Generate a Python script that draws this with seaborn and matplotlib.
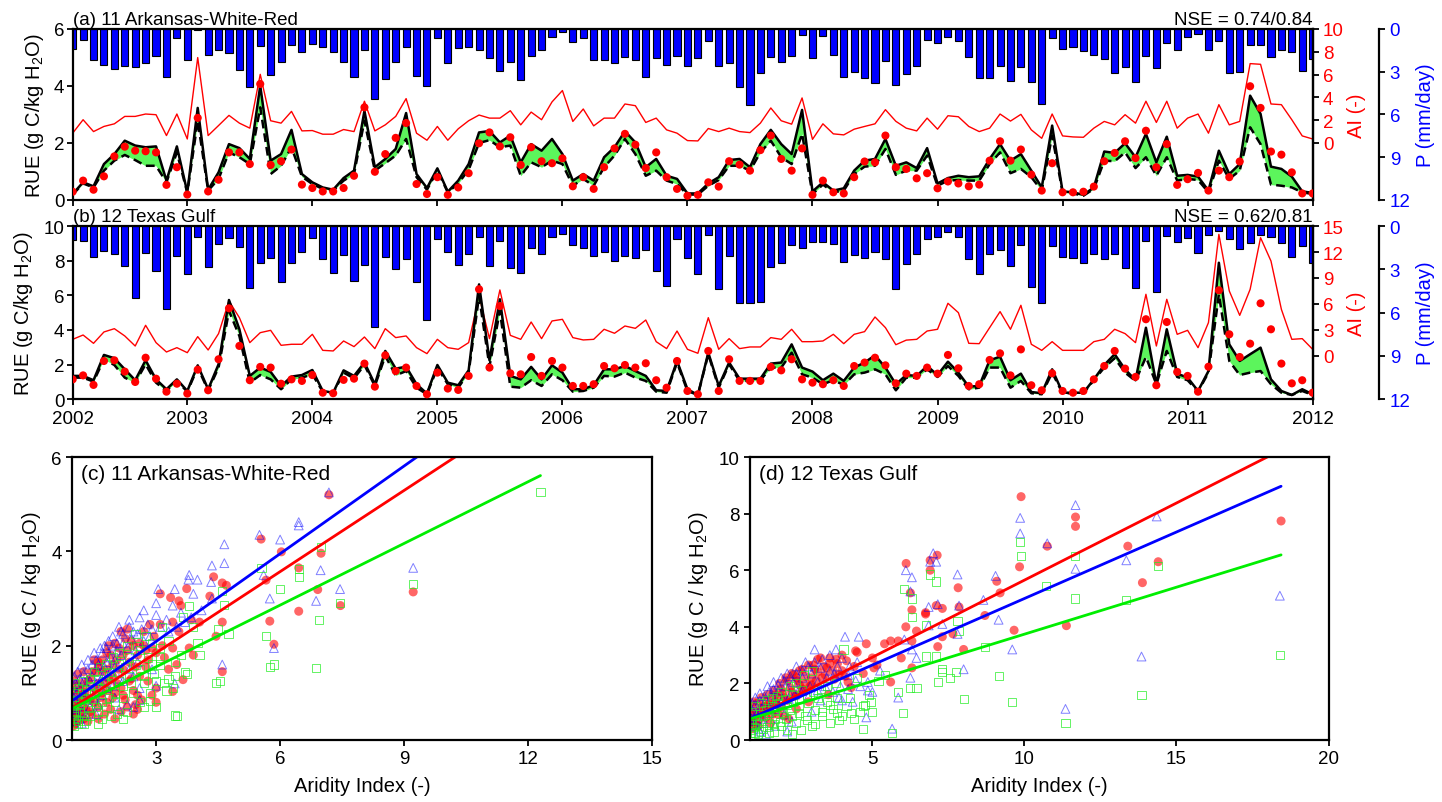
import numpy as np
import matplotlib
matplotlib.use("Agg")
import matplotlib.pyplot as plt
import seaborn as sns

# ---------------- monthly series, Jan 2002 .. Dec 2011 ----------------
a_precip = [1.4, 0.77, 2.2, 2.5, 2.8, 2.6, 2.7, 2.4, 1.9, 3.4,
            0.6, 2.2, 0.1, 1.8, 1.5, 1.7, 2.9, 4.1, 1.2, 3.2,
            2.3, 1.1, 1.6, 1.05, 1.3, 1.6, 2.3, 3.4, 1.5, 4.9,
            3.5, 2.3, 1.25, 3.3, 4.0, 0.6, 2.4, 1.35, 1.3, 1.5,
            2.06, 2.92, 2.34, 3.58, 1.87, 1.47, 0.58, 0.23, 0.94, 0.63,
            2.18, 2.18, 2.41, 1.99, 2.18, 3.39, 2.04, 2.5, 1.89, 2.6,
            2.04, 0.82, 2.57, 2.41, 4.09, 5.31, 3.11, 1.99, 2.29, 1.92,
            0.4, 2.04, 0.51, 1.82, 3.39, 3.04, 3.44, 3.81, 2.27, 3.93,
            3.16, 2.62, 0.77, 0.98, 0.54, 0.87, 1.94, 3.46, 3.44, 2.62,
            3.67, 2.69, 3.74, 5.26, 0.63, 1.4, 1.24, 1.52, 1.8, 2.08,
            3.11, 2.69, 3.74, 1.87, 2.76, 0.98, 1.47, 0.58, 0.35, 1.45,
            0.87, 3.09, 2.99, 1.15, 1.12, 1.99, 1.47, 1.64, 2.92, 2.11]
a_ai = [0.86, 2.04, 1.0, 1.45, 1.68, 2.33, 2.33, 2.54, 2.48, 0.65,
        2.54, 0.35, 7.49, 0.65, 1.53, 2.42, 1.74, 1.3, 6.02, 1.95,
        1.74, 2.77, 1.06, 1.09, 0.77, 0.77, 1.18, 1.0, 3.66, 1.06,
        1.59, 2.33, 3.89, 0.86, 0.24, 1.45, 0.24, 1.24, 1.95, 2.45,
        2.18, 2.18, 2.83, 1.59, 2.71, 2.04, 3.6, 4.6, 1.89, 2.98,
        1.5, 2.18, 2.18, 3.42, 3.27, 1.8, 2.18, 1.15, 0.86, 0.21,
        0.18, 1.27, 1.0, 1.3, 1.0, 0.91, 1.74, 3.07, 1.95, 1.65,
        3.95, 0.32, 1.68, 0.8, 0.71, 1.21, 1.45, 1.68, 2.92, 1.9,
        1.3, 1.06, 2.18, 1.21, 2.39, 2.3, 1.45, 1.0, 1.3, 2.54,
        1.92, 2.51, 1.15, 0.41, 2.54, 0.62, 0.53, 0.5, 1.3, 1.89,
        1.59, 2.48, 1.74, 3.66, 1.8, 3.66, 1.3, 2.18, 2.54, 0.86,
        3.36, 1.59, 1.89, 6.96, 6.9, 3.42, 3.36, 2.04, 0.62, 0.35]
a_sim1 = [0.21, 0.62, 0.48, 1.26, 1.61, 2.08, 1.91, 1.85, 1.88, 0.68,
          1.88, 0.27, 3.23, 0.36, 0.97, 1.96, 1.82, 1.44, 4.01, 1.38,
          1.61, 2.46, 0.91, 0.62, 0.44, 0.36, 0.77, 1.03, 3.13, 1.15,
          1.44, 1.79, 3.05, 0.91, 0.42, 1.11, 0.29, 0.68, 1.26, 2.37,
          2.42, 2.02, 2.26, 1.32, 1.96, 1.73, 2.14, 1.61, 0.68, 0.91,
          0.68, 1.5, 1.85, 2.41, 2.02, 1.15, 1.44, 0.85, 0.74, 0.23,
          0.23, 0.58, 0.8, 1.4, 1.44, 1.15, 1.96, 2.46, 1.96, 1.61,
          3.16, 0.3, 0.62, 0.33, 0.41, 1.03, 1.38, 1.44, 2.14, 1.2,
          1.32, 1.12, 1.82, 0.58, 0.77, 0.85, 0.8, 0.83, 1.44, 1.96,
          1.38, 1.61, 1.03, 0.44, 2.61, 0.3, 0.27, 0.18, 0.44, 1.7,
          1.65, 1.99, 1.5, 2.32, 1.32, 2.22, 0.85, 0.88, 0.82, 0.33,
          1.73, 0.91, 1.26, 3.66, 3.02, 1.17, 1.09, 0.82, 0.3, 0.25]
a_sim2 = [0.19, 0.58, 0.44, 1.03, 1.38, 1.58, 1.4, 1.2, 1.2, 0.62,
          1.67, 0.25, 2.78, 0.33, 0.74, 1.67, 1.5, 1.26, 3.25, 0.91,
          1.2, 1.85, 0.82, 0.56, 0.39, 0.33, 0.68, 0.91, 2.78, 1.03,
          1.29, 1.56, 2.14, 0.8, 0.36, 1.03, 0.27, 0.58, 1.06, 2.0,
          2.1, 1.85, 1.91, 0.85, 1.32, 1.15, 1.38, 1.26, 0.5, 0.74,
          0.5, 1.15, 1.56, 2.14, 1.61, 0.85, 1.03, 0.68, 0.56, 0.19,
          0.19, 0.5, 0.7, 1.2, 1.2, 1.03, 1.67, 2.08, 1.5, 1.26,
          2.32, 0.21, 0.54, 0.27, 0.33, 0.91, 1.17, 1.2, 1.79, 0.88,
          1.03, 1.03, 1.56, 0.5, 0.68, 0.7, 0.68, 0.68, 1.26, 1.67,
          0.94, 1.09, 0.8, 0.33, 2.26, 0.27, 0.23, 0.15, 0.39, 1.38,
          1.36, 1.67, 1.12, 1.5, 0.85, 1.5, 0.68, 0.74, 0.7, 0.27,
          1.38, 0.74, 1.03, 2.55, 1.96, 0.54, 0.5, 0.44, 0.27, 0.21]
a_obs = [0.29, 0.68, 0.36, 0.83, 1.53, 1.87, 1.73, 1.71, 1.67, 0.53,
         1.15, 0.19, 2.88, 0.3, 0.71, 1.67, 1.67, 1.26, 4.07, 1.23,
         1.36, 1.77, 0.54, 0.42, 0.3, 0.3, 0.42, 0.85, 3.25, 0.99,
         1.61, 2.18, 2.7, 0.56, 0.21, 0.8, 0.18, 0.44, 0.94, 1.99,
         2.37, 1.88, 2.2, 1.23, 1.85, 1.36, 1.29, 1.46, 0.48, 0.8,
         0.39, 1.15, 1.81, 2.32, 1.94, 1.12, 1.67, 0.8, 0.39, 0.15,
         0.18, 0.62, 0.47, 1.36, 1.24, 1.03, 1.75, 2.26, 1.44, 1.03,
         1.81, 0.18, 0.68, 0.27, 0.23, 0.8, 1.35, 1.32, 2.26, 1.15,
         1.09, 0.76, 0.94, 0.41, 0.65, 0.58, 0.48, 0.54, 1.38, 2.06,
         1.38, 1.77, 0.89, 0.33, 1.29, 0.27, 0.27, 0.29, 0.47, 1.36,
         1.65, 2.06, 1.47, 2.43, 1.15, 1.96, 0.53, 0.73, 0.95, 0.33,
         1.03, 0.8, 1.35, 3.99, 3.23, 1.7, 1.59, 0.97, 0.23, 0.23]

b_precip = [0.99, 1.04, 2.12, 1.73, 1.96, 2.77, 4.96, 1.85, 3.12, 5.77,
            2.05, 3.3, 0.76, 2.84, 1.22, 0.85, 1.45, 4.27, 2.58, 2.19,
            3.88, 2.54, 1.78, 0.85, 2.31, 3.23, 2.01, 3.81, 2.7, 6.99,
            2.12, 3.0, 2.26, 3.88, 6.51, 0.88, 1.8, 2.72, 1.96, 0.76,
            2.77, 1.04, 2.93, 3.23, 1.55, 1.92, 0.76, 0.58, 1.34, 1.5,
            2.05, 1.8, 2.42, 2.08, 2.24, 1.68, 3.12, 4.15, 0.92, 2.24,
            3.35, 0.62, 4.34, 2.05, 5.31, 5.35, 5.26, 2.84, 2.58, 1.32,
            1.5, 1.11, 1.11, 1.22, 2.49, 2.03, 2.24, 1.8, 2.28, 4.38,
            2.65, 1.96, 0.92, 0.74, 0.42, 0.74, 2.31, 3.3, 1.96, 1.66,
            2.79, 1.34, 4.2, 5.35, 1.38, 2.15, 2.19, 2.58, 1.96, 2.31,
            1.96, 2.93, 4.32, 1.04, 4.55, 0.69, 1.11, 0.81, 1.89, 0.65,
            0.35, 0.92, 1.57, 1.15, 0.65, 0.74, 1.15, 2.12, 1.38, 2.54]
b_ai = [1.92, 2.42, 1.46, 2.77, 3.15, 2.31, 1.15, 3.54, 1.54, 0.46,
        0.96, 0.38, 2.23, 0.69, 2.58, 6.35, 4.42, 1.54, 2.69, 2.96,
        1.23, 1.35, 1.35, 2.5, 0.65, 0.58, 1.73, 1.08, 2.19, 0.85,
        3.15, 2.12, 2.31, 0.96, 0.27, 1.92, 0.96, 0.77, 1.54, 6.92,
        2.0, 7.62, 2.38, 1.92, 3.92, 2.0, 4.04, 4.23, 2.12, 1.85,
        1.92, 3.08, 2.62, 3.46, 3.19, 4.15, 1.65, 0.85, 2.88, 0.77,
        0.31, 4.42, 0.77, 2.0, 0.85, 1.04, 1.04, 2.12, 1.92, 3.08,
        1.65, 1.65, 1.73, 2.5, 1.42, 2.5, 2.81, 4.5, 3.27, 1.3,
        1.83, 1.92, 2.88, 3.08, 6.08, 5.0, 1.46, 1.42, 3.27, 5.12,
        3.08, 5.85, 1.35, 0.65, 1.65, 0.65, 0.65, 0.65, 1.65, 1.92,
        3.08, 2.58, 1.54, 7.12, 1.15, 6.54, 2.5, 2.96, 0.96, 3.85,
        14.04, 7.5, 4.69, 7.69, 13.65, 10.96, 5.38, 1.92, 2.0, 0.77]
b_sim1 = [1.35, 1.35, 1.1, 2.56, 2.37, 1.73, 1.1, 2.25, 1.15, 0.58,
          1.15, 0.48, 1.96, 0.58, 2.02, 5.73, 4.04, 1.35, 1.83, 1.58,
          0.77, 1.31, 1.4, 1.69, 0.48, 0.38, 1.67, 1.35, 2.12, 0.87,
          2.79, 1.77, 1.88, 0.87, 0.33, 1.98, 0.96, 0.81, 1.67, 6.63,
          2.25, 5.77, 1.35, 1.15, 1.87, 1.15, 1.96, 1.54, 0.58, 0.58,
          0.81, 1.73, 1.73, 1.92, 1.63, 1.35, 0.52, 0.48, 2.21, 0.58,
          0.25, 2.69, 0.77, 2.12, 1.19, 1.19, 1.19, 2.06, 2.12, 3.17,
          1.83, 1.6, 1.1, 1.48, 1.06, 1.83, 2.12, 2.54, 1.83, 0.87,
          1.4, 1.35, 1.92, 1.4, 2.17, 1.54, 0.73, 0.77, 2.25, 2.46,
          1.1, 1.48, 0.42, 0.35, 1.73, 0.38, 0.38, 0.38, 1.15, 1.98,
          2.6, 1.73, 1.1, 4.13, 0.87, 4.04, 1.48, 1.25, 0.48, 1.63,
          7.88, 3.17, 2.21, 2.6, 2.98, 1.15, 0.48, 0.25, 0.58, 0.29]
b_sim2 = [1.25, 1.25, 1.02, 2.31, 1.98, 1.25, 0.96, 2.02, 0.96, 0.48,
          1.06, 0.44, 1.83, 0.52, 1.83, 5.1, 3.65, 0.96, 1.4, 1.15,
          0.58, 1.15, 1.25, 1.44, 0.44, 0.35, 1.54, 1.21, 1.98, 0.77,
          2.5, 1.38, 1.63, 0.67, 0.29, 1.83, 0.87, 0.67, 1.54, 5.96,
          1.9, 5.1, 0.73, 0.67, 1.1, 0.77, 1.44, 1.1, 0.44, 0.48,
          0.67, 1.35, 1.31, 1.54, 1.25, 1.06, 0.44, 0.38, 2.12, 0.48,
          0.25, 2.6, 0.67, 2.02, 1.06, 1.06, 1.1, 1.83, 1.83, 2.69,
          1.44, 1.25, 0.87, 1.1, 0.83, 1.44, 1.54, 1.73, 1.44, 0.52,
          1.25, 1.25, 1.73, 1.29, 1.92, 1.35, 0.58, 0.67, 1.83, 1.83,
          0.67, 1.06, 0.35, 0.29, 1.54, 0.35, 0.35, 0.35, 1.1, 1.83,
          2.37, 1.54, 1.06, 2.44, 0.87, 2.79, 1.29, 1.1, 0.44, 1.54,
          6.06, 2.21, 1.4, 1.54, 1.63, 0.87, 0.38, 0.25, 0.48, 0.25]
b_obs = [1.15, 1.38, 0.83, 2.21, 2.25, 1.6, 1.0, 2.4, 1.19, 0.44,
         0.9, 0.33, 1.71, 0.52, 2.31, 5.25, 3.08, 1.1, 1.87, 1.83,
         0.9, 1.15, 1.06, 1.4, 0.38, 0.35, 1.12, 1.19, 2.06, 0.73,
         2.54, 1.63, 1.83, 0.77, 0.29, 1.54, 0.62, 0.54, 1.35, 6.35,
         1.83, 5.38, 1.5, 1.44, 2.44, 1.35, 2.21, 1.83, 0.77, 0.77,
         0.87, 1.92, 1.79, 1.98, 1.83, 2.08, 1.1, 0.67, 2.21, 0.48,
         0.29, 2.79, 0.48, 2.31, 1.06, 1.06, 1.06, 1.87, 1.67, 2.31,
         1.15, 0.96, 0.87, 1.1, 0.77, 1.92, 2.12, 2.4, 1.96, 0.92,
         1.48, 1.35, 1.83, 1.48, 2.56, 1.79, 0.77, 0.87, 2.27, 2.65,
         1.38, 2.88, 0.81, 0.52, 1.5, 0.48, 0.38, 0.48, 1.15, 1.92,
         2.79, 1.77, 1.29, 4.62, 0.81, 4.46, 1.58, 1.35, 0.44, 1.88,
         6.29, 3.75, 2.44, 3.21, 5.54, 4.04, 2.06, 0.92, 1.1, 0.38]

year_labels = [str(y) for y in range(2002, 2013)]

# ---------------- scatter data: (aridity index, RUE) ----------------
c_obs = [(7.18, 5.2), (5.54, 4.26), (6.03, 3.99), (6.99, 3.96), (6.45, 3.65), (5.66, 3.39),
         (4.39, 3.46), (4.6, 3.33), (4.7, 3.28), (4.3, 3.05), (3.74, 3.21), (3.1, 3.1),
         (3.35, 3.02), (3.55, 2.95), (3.6, 2.85), (6.91, 3.19), (7.46, 2.85), (9.22, 3.14),
         (6.45, 2.73), (5.75, 2.52), (4.6, 2.5), (5.85, 2.03), (4.6, 1.45), (3.9, 1.8),
         (3.65, 1.28), (3.4, 1.03), (3.0, 0.8), (3.0, 1.1), (2.55, 0.95), (3.3, 1.5),
         (3.5, 1.6), (3.8, 1.95), (4.05, 2.5), (4.45, 2.2), (3.85, 2.55), (3.4, 2.5),
         (3.1, 2.45), (2.85, 2.45), (2.95, 2.2), (2.7, 2.3), (2.3, 2.35), (2.25, 2.15),
         (2.0, 2.05), (1.8, 1.85), (1.6, 1.65), (1.55, 1.45), (1.4, 1.3), (1.3, 1.1),
         (1.2, 0.95), (1.1, 0.8), (1.05, 0.6), (1.0, 0.45), (1.05, 0.35), (1.2, 0.5),
         (1.35, 0.4), (1.45, 0.55), (1.6, 0.7), (1.75, 0.55), (1.9, 0.65), (2.0, 0.45),
         (2.15, 0.6), (2.3, 0.7), (2.45, 0.55), (2.5, 0.75), (2.65, 0.85), (2.2, 0.95),
         (1.95, 0.9), (1.7, 1.0), (1.5, 1.1), (1.25, 0.7), (1.15, 1.05), (1.4, 0.85),
         (1.85, 1.3), (2.1, 1.5), (2.35, 1.65), (2.55, 1.8), (2.75, 1.9), (2.9, 1.95),
         (2.6, 2.05), (1.95, 1.6), (1.7, 1.45), (2.2, 1.8), (2.45, 2.0), (2.05, 1.2),
         (2.4, 1.3), (2.75, 1.55), (1.6, 1.2), (1.3, 0.9), (1.1, 0.65), (3.2, 1.75),
         (3.4, 1.95), (3.55, 2.3), (2.8, 1.7), (3.15, 2.0), (2.45, 1.05), (1.8, 0.8),
         (1.0, 0.3), (1.0, 0.6), (1.0, 0.8), (1.0, 1.05), (1.02, 1.25), (1.05, 0.5),
         (1.08, 0.95), (1.1, 1.15), (1.12, 0.4), (1.15, 0.6), (1.18, 0.85), (1.2, 1.2),
         (1.25, 0.45), (1.28, 1.0), (1.3, 0.65), (1.35, 1.25), (1.4, 0.6), (1.45, 1.45),
         (1.5, 0.8), (1.55, 1.0), (1.6, 1.55), (1.65, 0.9), (1.7, 1.7), (1.75, 1.2),
         (1.8, 1.5), (1.85, 1.05), (1.9, 1.8), (1.95, 1.35), (2.0, 1.0), (2.05, 1.7),
         (2.1, 1.95), (2.15, 1.1), (2.2, 1.5), (2.25, 0.85), (2.3, 1.9), (2.35, 1.25),
         (2.4, 2.1), (2.5, 1.55), (2.55, 0.65), (2.6, 1.35), (2.7, 2.0), (2.8, 1.25),
         (2.9, 0.95), (3.0, 1.85), (2.15, 2.3), (1.85, 2.0), (1.5, 1.7), (1.25, 1.45),
         (1.1, 1.4), (1.6, 0.45)]
c_sim1 = [(7.18, 5.25), (6.45, 4.62), (6.45, 4.55), (5.5, 4.35), (6.0, 4.25), (4.65, 4.15),
          (4.35, 3.7), (4.65, 3.75), (5.6, 3.5), (3.8, 3.5), (3.78, 3.4), (4.0, 3.4),
          (4.33, 3.35), (6.98, 3.6), (9.22, 3.65), (7.45, 3.2), (5.75, 3.0), (6.87, 2.95),
          (3.05, 3.2), (3.45, 3.2), (3.9, 3.1), (4.35, 3.0), (5.85, 1.95), (4.6, 1.6),
          (3.45, 1.2), (3.0, 1.15), (2.6, 0.85), (3.4, 2.85), (3.6, 2.7), (2.6, 2.6),
          (2.35, 2.4), (3.0, 2.65), (3.25, 2.55), (2.8, 2.45), (2.15, 2.3), (1.95, 2.0),
          (1.8, 1.95), (1.7, 1.85), (1.55, 1.7), (1.45, 1.6), (1.35, 1.5), (1.25, 1.4),
          (1.15, 1.3), (1.05, 1.2), (1.0, 1.0), (1.05, 0.85), (1.1, 0.7), (1.2, 0.9),
          (1.3, 1.15), (1.4, 1.25), (1.6, 1.45), (1.75, 1.55), (1.9, 1.75), (2.05, 1.9),
          (2.2, 2.05), (2.4, 2.15), (2.55, 2.25), (2.7, 2.1), (2.9, 2.35), (3.1, 2.4),
          (3.3, 2.3), (3.5, 2.4), (3.7, 2.5), (1.5, 0.9), (1.8, 1.1), (2.1, 1.3),
          (2.35, 1.5), (1.3, 0.55), (1.6, 0.75), (1.15, 0.45), (2.0, 0.9), (2.3, 0.75),
          (2.55, 1.65), (2.0, 1.55), (1.65, 1.25), (3.85, 2.6), (4.1, 2.75), (2.45, 0.7),
          (1.0, 0.4), (1.0, 0.65), (1.0, 0.9), (1.0, 1.15), (1.02, 1.35), (1.05, 0.55),
          (1.08, 1.0), (1.1, 1.45), (1.12, 0.75), (1.15, 1.1), (1.2, 1.6), (1.22, 0.6),
          (1.25, 1.25), (1.3, 0.85), (1.35, 1.7), (1.4, 1.05), (1.45, 1.35), (1.5, 1.85),
          (1.55, 1.2), (1.6, 1.6), (1.65, 1.95), (1.7, 1.35), (1.75, 2.0), (1.8, 1.65),
          (1.85, 2.1), (1.9, 1.45), (1.95, 2.2), (2.0, 1.7), (2.05, 2.05), (2.1, 2.4),
          (2.15, 1.8), (2.2, 2.25), (2.3, 1.95), (2.35, 2.55), (2.45, 2.3), (2.5, 1.9),
          (2.65, 2.35), (2.7, 2.75), (2.85, 2.2), (3.0, 2.9), (1.4, 0.7), (1.7, 0.95),
          (1.95, 1.15), (2.2, 1.25), (2.45, 1.35), (1.2, 0.35), (1.55, 0.55), (2.1, 0.65),
          (2.6, 1.1), (2.9, 1.5)]
c_sim2 = [(12.3, 5.25), (7.0, 4.1), (5.55, 3.65), (6.45, 3.62), (6.45, 3.45), (4.6, 3.15),
          (6.0, 3.2), (9.22, 3.3), (7.45, 2.9), (4.65, 2.87), (3.8, 2.85), (6.95, 2.55),
          (5.65, 2.2), (4.75, 2.25), (4.5, 2.35), (4.05, 1.8), (5.75, 1.55), (5.85, 1.6),
          (6.87, 1.53), (4.55, 1.25), (4.45, 1.2), (3.45, 0.52), (3.5, 0.5), (3.7, 1.45),
          (3.75, 1.4), (3.0, 0.7), (2.7, 0.7), (2.85, 0.83), (3.45, 1.35), (3.3, 1.3),
          (3.6, 1.8), (3.9, 2.4), (3.65, 2.6), (4.0, 2.05), (3.1, 1.75), (2.9, 1.6),
          (2.6, 1.5), (2.35, 1.35), (2.1, 1.25), (1.9, 1.2), (1.7, 1.1), (1.5, 1.0),
          (1.3, 0.9), (1.15, 0.75), (1.05, 0.6), (1.0, 0.5), (1.1, 0.4), (1.25, 0.35),
          (1.4, 0.5), (1.6, 0.6), (1.8, 0.7), (2.0, 0.8), (2.2, 0.9), (2.45, 1.0),
          (1.2, 1.0), (1.4, 1.15), (1.6, 1.3), (1.85, 1.45), (2.1, 1.6), (2.35, 1.75),
          (2.55, 2.0), (2.75, 2.2), (2.5, 2.25), (2.2, 0.45), (2.05, 0.55), (1.7, 0.45),
          (3.25, 1.05), (3.0, 1.25), (2.7, 1.2), (3.45, 1.65), (2.9, 2.05), (3.15, 2.4),
          (1.0, 0.3), (1.0, 0.55), (1.0, 0.75), (1.0, 1.0), (1.02, 1.2), (1.05, 0.45),
          (1.08, 0.85), (1.1, 1.1), (1.12, 0.35), (1.15, 0.6), (1.2, 0.8), (1.22, 1.25),
          (1.25, 0.5), (1.3, 1.05), (1.35, 0.7), (1.4, 1.3), (1.45, 0.8), (1.5, 1.45),
          (1.55, 0.7), (1.6, 1.1), (1.65, 1.55), (1.7, 0.8), (1.75, 1.25), (1.8, 1.6),
          (1.85, 0.9), (1.9, 1.35), (1.95, 1.75), (2.0, 1.0), (2.05, 1.45), (2.1, 1.85),
          (2.2, 1.15), (2.25, 1.55), (2.3, 2.0), (2.4, 1.2), (2.5, 1.6), (2.6, 1.9),
          (2.7, 1.35), (2.8, 1.75), (2.95, 1.4), (3.1, 1.6), (1.3, 0.4), (1.6, 0.35),
          (1.9, 0.5), (2.3, 0.6), (2.6, 0.8), (2.85, 1.0), (3.2, 1.2), (3.4, 1.1),
          (3.1, 1.95), (3.3, 2.1)]

d_obs = [(9.89, 8.6), (11.68, 7.88), (11.68, 7.55), (18.44, 7.74), (10.75, 6.85), (13.4, 6.85),
         (14.4, 6.3), (6.11, 6.24), (7.13, 6.53), (6.9, 6.35), (6.9, 6.0), (9.84, 6.12),
         (9.09, 5.61), (13.88, 5.56), (6.25, 5.2), (7.82, 5.38), (7.85, 4.7), (7.1, 4.75),
         (7.3, 4.65), (6.3, 4.6), (6.75, 4.5), (6.75, 4.45), (9.2, 5.2), (8.7, 4.4),
         (7.65, 3.75), (7.3, 3.65), (9.66, 3.88), (11.38, 4.04), (6.1, 4.0), (6.3, 3.5),
         (6.45, 3.85), (7.15, 3.3), (8.0, 3.2), (5.85, 3.5), (5.6, 3.5), (5.95, 2.9),
         (5.4, 3.4), (4.8, 3.4), (4.5, 3.1), (4.45, 3.15), (5.0, 2.9), (5.15, 2.65),
         (5.05, 2.55), (5.6, 2.05), (6.3, 2.55), (4.7, 2.35), (4.1, 2.25), (4.2, 2.05),
         (4.0, 3.0), (3.8, 2.85), (3.6, 2.7), (3.4, 2.6), (3.3, 2.9), (3.2, 2.4),
         (3.0, 2.2), (2.8, 2.0), (2.6, 1.95), (2.4, 2.3), (2.2, 2.1), (2.0, 1.8),
         (1.8, 1.6), (1.6, 1.4), (1.45, 1.2), (1.3, 1.0), (1.15, 0.85), (1.05, 0.7),
         (1.0, 0.9), (1.2, 1.3), (1.4, 0.95), (1.6, 1.1), (1.85, 1.25), (2.1, 1.5),
         (2.35, 1.7), (2.55, 1.6), (2.75, 1.75), (2.95, 1.9), (3.15, 2.1), (3.45, 2.3),
         (3.7, 2.45), (3.9, 2.3), (2.5, 2.2), (2.7, 2.5), (3.05, 2.65), (2.25, 0.75),
         (1.9, 0.9), (4.3, 1.85), (3.55, 1.6),
         (1.0, 0.6), (1.0, 1.1), (1.05, 0.4), (1.1, 1.35), (1.15, 0.55), (1.2, 1.0),
         (1.3, 0.75), (1.35, 1.5), (1.4, 1.2), (1.5, 0.8), (1.55, 1.6), (1.6, 1.25),
         (1.7, 0.9), (1.75, 1.75), (1.8, 1.35), (1.9, 1.5), (1.95, 2.0), (2.0, 1.15),
         (2.05, 1.65), (2.15, 2.2), (2.2, 1.4), (2.3, 1.85), (2.35, 2.35), (2.45, 1.55),
         (2.55, 2.1), (2.6, 2.45), (2.7, 1.8), (2.8, 2.25), (2.9, 2.65), (3.0, 1.95),
         (3.1, 2.5), (3.2, 2.85), (3.35, 2.2), (3.5, 2.55), (3.6, 2.9), (3.75, 2.15),
         (3.85, 2.7), (4.0, 2.45), (4.15, 2.8), (4.4, 2.6), (1.25, 0.5), (1.65, 0.6),
         (2.1, 0.85), (2.5, 1.1), (2.9, 1.35)]
d_sim1 = [(11.68, 8.3), (9.86, 7.85), (9.86, 7.3), (10.75, 6.95), (14.35, 7.9), (11.68, 6.05),
          (13.35, 6.35), (7.0, 6.6), (6.9, 6.3), (7.1, 6.3), (6.1, 6.0), (6.3, 5.75),
          (7.8, 5.85), (9.05, 5.8), (6.25, 5.25), (7.15, 4.8), (6.85, 4.7), (7.85, 4.75),
          (8.65, 4.95), (9.15, 4.25), (7.3, 4.1), (6.85, 4.05), (7.8, 3.75), (9.6, 3.2),
          (6.3, 3.2), (6.45, 2.9), (8.0, 2.5), (6.05, 3.55), (6.25, 2.2), (5.85, 1.5),
          (5.65, 0.4), (4.8, 0.8), (11.35, 1.1), (13.85, 2.95), (18.4, 5.1), (5.25, 2.45),
          (4.85, 2.05), (4.1, 3.65), (4.55, 3.65), (3.8, 3.2), (4.0, 2.9), (3.6, 3.0),
          (3.35, 2.85), (3.1, 2.75), (2.9, 2.6), (2.7, 2.45), (2.5, 2.35), (2.3, 2.25),
          (2.1, 2.1), (1.9, 1.95), (1.75, 1.8), (1.6, 1.7), (1.45, 1.55), (1.3, 1.4),
          (1.15, 1.25), (1.05, 1.05), (1.0, 0.8), (1.1, 0.55), (1.25, 0.4), (1.4, 0.75),
          (1.6, 0.95), (1.8, 1.1), (2.0, 1.3), (2.25, 1.45), (2.45, 1.6), (2.7, 1.75),
          (2.95, 1.9), (3.2, 2.05), (3.5, 2.2), (3.75, 2.35), (4.25, 2.6), (4.5, 2.75),
          (2.2, 0.3), (3.0, 1.0), (3.3, 1.4), (3.9, 1.5), (4.35, 1.35), (4.2, 1.8),
          (5.0, 1.7), (3.95, 1.9),
          (1.0, 0.5), (1.0, 1.0), (1.05, 1.3), (1.1, 0.7), (1.15, 1.5), (1.2, 0.95),
          (1.3, 1.65), (1.35, 1.1), (1.4, 0.6), (1.5, 1.4), (1.55, 1.9), (1.6, 1.15),
          (1.7, 1.6), (1.75, 2.05), (1.8, 1.3), (1.9, 1.75), (2.0, 2.2), (2.05, 1.45),
          (2.15, 1.9), (2.2, 2.35), (2.3, 1.6), (2.4, 2.05), (2.5, 2.6), (2.6, 1.8),
          (2.7, 2.2), (2.8, 2.75), (2.9, 1.55), (3.0, 2.35), (3.1, 3.2), (3.2, 1.75),
          (3.3, 2.55), (3.45, 1.9), (3.6, 2.45), (3.7, 1.7), (3.85, 2.6), (4.0, 1.4),
          (4.2, 2.3), (4.45, 2.1), (4.6, 1.9), (4.85, 1.75), (1.3, 0.3), (1.5, 0.2),
          (1.8, 0.5), (2.1, 0.9), (2.35, 0.65)]
d_sim2 = [(9.85, 7.0), (9.9, 6.5), (11.65, 6.5), (14.4, 6.15), (6.9, 5.85), (7.1, 5.6),
          (6.05, 5.35), (6.3, 5.0), (10.7, 5.45), (11.65, 5.0), (13.35, 4.95), (6.3, 4.35),
          (7.8, 4.2), (7.85, 3.85), (6.75, 4.05), (8.7, 3.3), (6.75, 2.95), (7.1, 2.95),
          (7.3, 2.5), (7.3, 2.4), (7.75, 2.4), (7.55, 2.2), (7.15, 2.05), (9.15, 2.25),
          (8.0, 1.45), (9.6, 1.35), (11.35, 0.6), (13.85, 1.6), (18.4, 3.0), (6.25, 1.85),
          (6.45, 1.85), (5.85, 1.7), (6.0, 0.95), (5.65, 0.25), (4.7, 0.4), (4.75, 1.25),
          (4.7, 1.2), (4.95, 1.35), (5.0, 1.0), (4.25, 1.5), (4.3, 0.95), (3.9, 0.7),
          (3.85, 0.95), (4.05, 3.2), (3.8, 2.0), (3.5, 1.9), (3.3, 1.8), (3.05, 1.7),
          (2.85, 1.55), (2.6, 1.45), (2.4, 1.35), (2.2, 1.25), (2.0, 1.15), (1.8, 1.05),
          (1.6, 0.95), (1.4, 0.85), (1.2, 0.7), (1.05, 0.55), (1.0, 0.35), (1.15, 0.25),
          (1.35, 0.3), (1.55, 0.45), (1.75, 0.55), (1.95, 0.65), (2.15, 0.75), (2.35, 0.85),
          (2.6, 0.95), (2.85, 0.7), (3.1, 0.55), (3.35, 1.0), (3.6, 1.25), (2.5, 2.0),
          (2.75, 2.3), (3.0, 2.45), (1.7, 1.5), (2.0, 1.7), (2.3, 1.9), (5.2, 2.1),
          (5.4, 2.3), (4.5, 2.2),
          (1.0, 0.25), (1.0, 0.7), (1.05, 1.0), (1.1, 0.45), (1.15, 1.2), (1.2, 0.55),
          (1.3, 0.9), (1.35, 1.3), (1.4, 0.4), (1.5, 1.05), (1.55, 1.4), (1.6, 0.6),
          (1.7, 1.2), (1.75, 0.3), (1.8, 0.75), (1.9, 1.3), (2.0, 0.5), (2.05, 0.95),
          (2.15, 1.45), (2.2, 0.35), (2.3, 1.05), (2.4, 1.6), (2.5, 0.6), (2.6, 1.2),
          (2.7, 1.75), (2.8, 0.85), (2.9, 1.3), (3.0, 0.5), (3.1, 1.05), (3.2, 1.5),
          (3.35, 0.85), (3.5, 1.35), (3.6, 0.6), (3.7, 1.1), (3.85, 1.5), (4.0, 0.85),
          (4.15, 1.2), (4.4, 0.75), (4.6, 1.0), (4.9, 1.6), (1.25, 0.2), (1.6, 0.25),
          (2.35, 0.2), (2.65, 0.35), (1.85, 1.55)]

# linear fits (intercept, slope)
c_fits = {"obs": (0.126, 0.574), "sim1": (0.23, 0.62), "sim2": (0.244, 0.436)}
d_fits = {"obs": (0.2, 0.545), "sim1": (0.3, 0.47), "sim2": (0.42, 0.332)}

# ---------------- styling ----------------
sns.set_theme(style="ticks")
plt.rcParams["font.family"] = ["Liberation Sans", "DejaVu Sans"]
plt.rcParams["mathtext.default"] = "regular"
plt.rcParams["text.color"] = "black"
plt.rcParams["axes.labelcolor"] = "black"
plt.rcParams["axes.edgecolor"] = "black"
plt.rcParams["axes.linewidth"] = 1.6
plt.rcParams["xtick.major.width"] = 1.3
plt.rcParams["ytick.major.width"] = 1.3
plt.rcParams["xtick.major.size"] = 4
plt.rcParams["ytick.major.size"] = 4

FS = 13.5
GREEN = "#5cf55c"

months = 2002 + (np.arange(120) + 1) / 12.0
xticks = [2002 + 1 / 12.0] + list(range(2003, 2013))

fig = plt.figure(figsize=(14.42, 8.03), dpi=100)


def series_panel(rect, precip, ai, sim1, sim2, obs, rue_max, ai_max, ai_step,
                 title, nse, show_years):
    ax = fig.add_axes(rect)
    ax_p = ax.twinx()
    ax_ai = ax.twinx()
    ax_p.set_zorder(1)
    ax_ai.set_zorder(2)
    ax.set_zorder(3)
    ax.patch.set_visible(False)
    ax_ai.patch.set_visible(False)
    ax_p.patch.set_facecolor("white")

    # precipitation bars hanging from the top
    ax_p.bar(months, precip, width=0.68 / 12, color="#0000ff",
             edgecolor="black", linewidth=0.8, align="center")
    ax_p.set_ylim(12, 0)
    ax_p.set_yticks([0, 3, 6, 9, 12])
    ax_p.spines["right"].set_position(("outward", 48))
    for s in ["left", "top", "bottom"]:
        ax_p.spines[s].set_visible(False)
    ax_p.tick_params(axis="y", colors="black", labelcolor="blue", labelsize=FS,
                     direction="out")
    ax_p.set_ylabel("P (mm/day)", color="blue", fontsize=14.5, labelpad=4)

    # aridity index line
    sns.lineplot(x=months, y=ai, ax=ax_ai, color="red", linewidth=1.0,
                 estimator=None, sort=False)
    ax_ai.set_ylim(-5, ai_max)
    ax_ai.set_yticks(np.arange(0, ai_max + 0.1, ai_step))
    for s in ["left", "top", "bottom"]:
        ax_ai.spines[s].set_visible(False)
    ax_ai.tick_params(axis="y", colors="black", labelcolor="red", labelsize=FS,
                      direction="out")
    ax_ai.set_ylabel("AI (-)", color="red", fontsize=14.5, labelpad=2)

    # RUE: modelled band, two model lines, observations
    ax.fill_between(months, sim1, sim2, color=GREEN, linewidth=0)
    sns.lineplot(x=months, y=sim2, ax=ax, color="black", linewidth=1.8,
                 linestyle=(0, (3.5, 2)), estimator=None, sort=False)
    sns.lineplot(x=months, y=sim1, ax=ax, color="black", linewidth=1.8,
                 estimator=None, sort=False)
    sns.scatterplot(x=months, y=obs, ax=ax, color="red", s=34,
                    edgecolor="none", zorder=5)
    ax.set_ylim(0, rue_max)
    ax.set_yticks(np.arange(0, rue_max + 0.1, 2))
    ax.set_xlim(xticks[0], 2012)
    ax.set_xticks(xticks)
    ax.set_xticklabels(year_labels if show_years else [])
    ax.tick_params(axis="both", labelsize=FS, direction="out", colors="black")
    ax.tick_params(axis="y", pad=2)
    ax.set_ylabel("RUE (g C/kg H$_2$O)", fontsize=14.5, labelpad=6)
    for sp in ax.spines.values():
        sp.set_color("black")
    ax.text(0.0, 1.008, title, transform=ax.transAxes, ha="left", va="bottom",
            fontsize=FS)
    ax.text(1.0, 1.008, nse, transform=ax.transAxes, ha="right", va="bottom",
            fontsize=FS)
    return ax


def scatter_panel(rect, obs, sim1, sim2, fits, xmax, ymax, xt, yt, title):
    ax = fig.add_axes(rect)
    ox, oy = zip(*obs)
    s1x, s1y = zip(*sim1)
    s2x, s2y = zip(*sim2)
    sns.scatterplot(x=ox, y=oy, ax=ax, color="red", s=42, alpha=0.6,
                    edgecolor="none")
    sns.scatterplot(x=s1x, y=s1y, ax=ax, marker="^", s=40, color="blue",
                    facecolor="none", edgecolor="blue", linewidth=0.7, alpha=0.5)
    sns.scatterplot(x=s2x, y=s2y, ax=ax, marker="s", s=34, color="#00dd00",
                    facecolor="none", edgecolor="#22ee22", linewidth=0.7, alpha=0.7)
    all_x = list(ox) + list(s1x) + list(s2x)
    x0, x1 = min(all_x), max(all_x)
    for key, col in [("obs", "red"), ("sim1", "blue"), ("sim2", "#00ee00")]:
        a, b = fits[key]
        sns.lineplot(x=[x0, x1], y=[a + b * x0, a + b * x1], ax=ax, color=col,
                     linewidth=2.0, estimator=None, sort=False)
    ax.set_xlim(0.97, xmax)
    ax.set_ylim(0, ymax)
    ax.set_xticks(xt)
    ax.set_yticks(yt)
    ax.tick_params(axis="both", labelsize=FS, direction="out", colors="black")
    ax.set_xlabel("Aridity Index (-)", fontsize=14.5, labelpad=6)
    ax.set_ylabel("RUE (g C / kg H$_2$O)", fontsize=14.5, labelpad=6)
    for sp in ax.spines.values():
        sp.set_color("black")
    ax.text(0.015, 0.975, title, transform=ax.transAxes, ha="left", va="top",
            fontsize=15)
    return ax


series_panel([0.0504, 0.7497, 0.8599, 0.2130], a_precip, a_ai, a_sim1, a_sim2,
             a_obs, 6, 10, 2, "(a) 11 Arkansas-White-Red", "NSE = 0.74/0.84",
             False)
series_panel([0.0504, 0.5015, 0.8599, 0.2158], b_precip, b_ai, b_sim1, b_sim2,
             b_obs, 10, 15, 3, "(b) 12 Texas Gulf", "NSE = 0.62/0.81", True)

scatter_panel([0.0501, 0.0772, 0.4021, 0.3524], c_obs, c_sim1, c_sim2, c_fits,
              15, 6, [3, 6, 9, 12, 15], [0, 2, 4, 6], "(c) 11 Arkansas-White-Red")
scatter_panel([0.5200, 0.0772, 0.4013, 0.3524], d_obs, d_sim1, d_sim2, d_fits,
              20, 10, [5, 10, 15, 20], [0, 2, 4, 6, 8, 10], "(d) 12 Texas Gulf")

fig.savefig("out.png", dpi=100)
